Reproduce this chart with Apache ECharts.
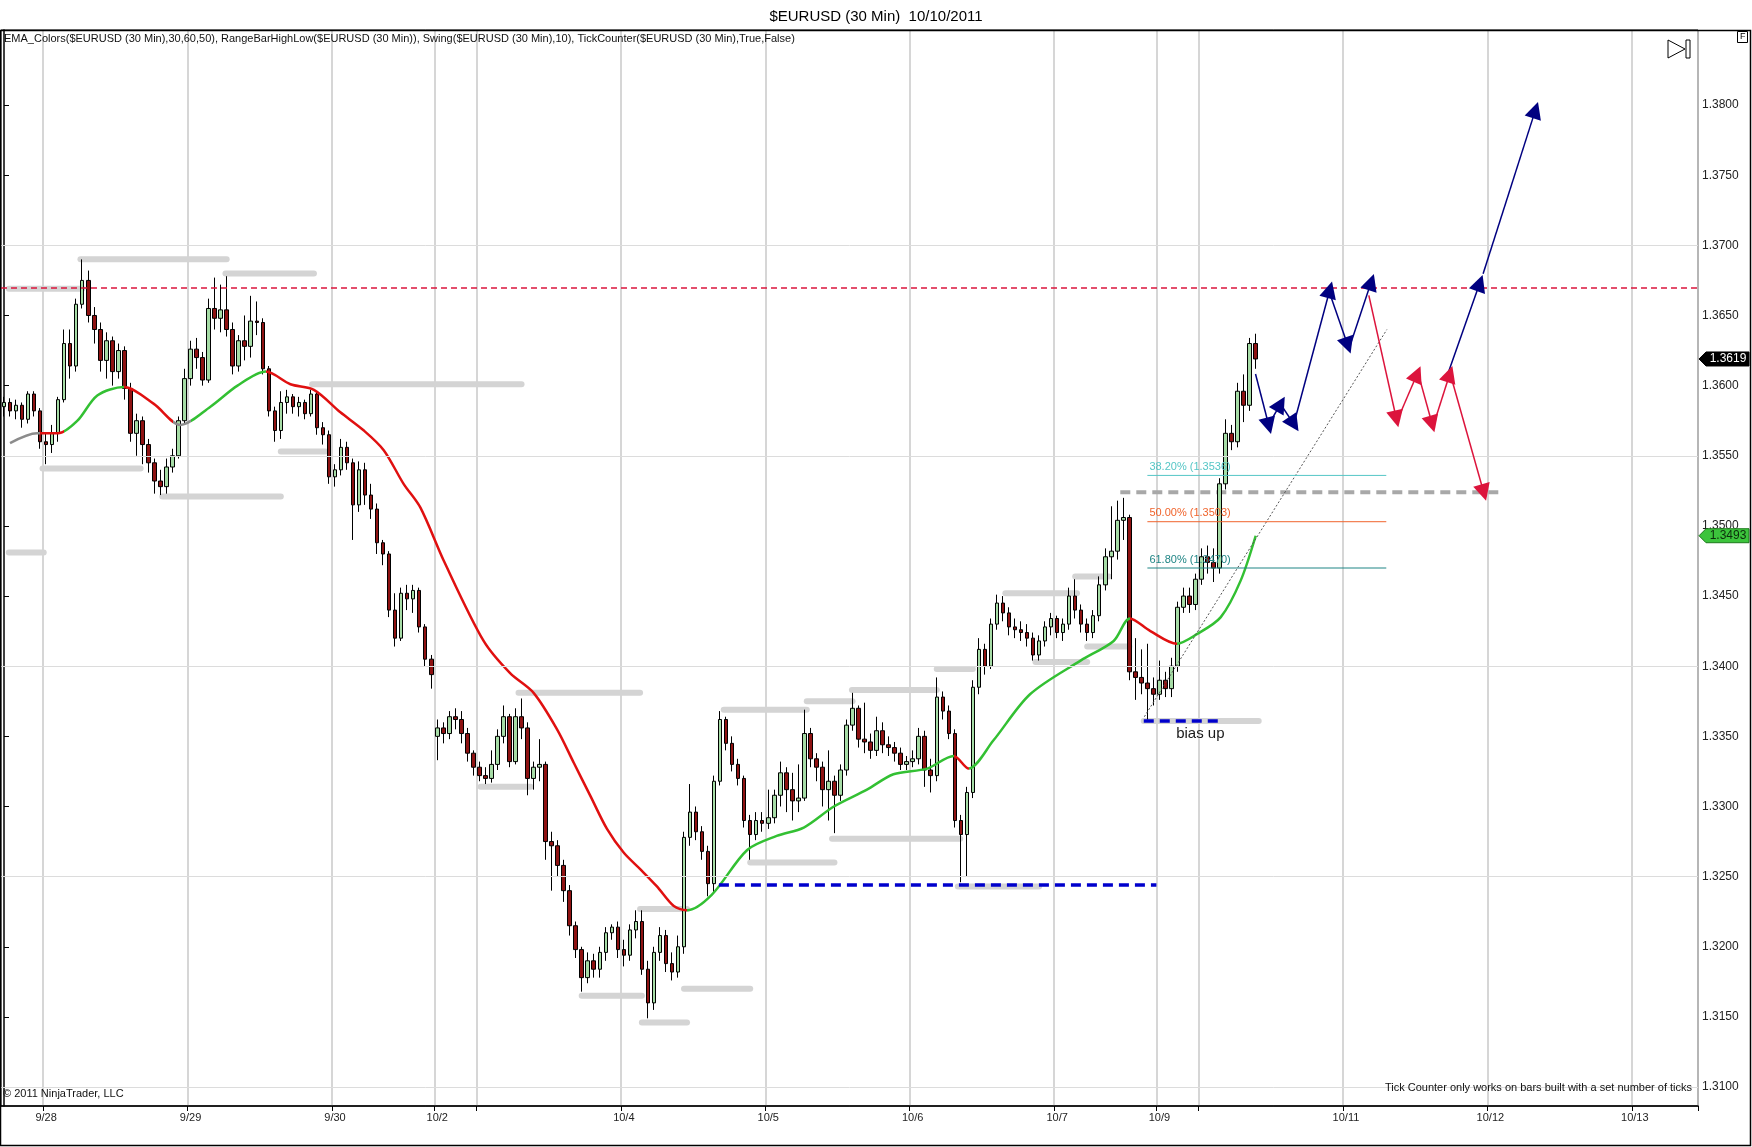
<!DOCTYPE html>
<html lang="en">
<head>
<meta charset="UTF-8">
<title>$EURUSD (30 Min) 10/10/2011</title>
<script src="https://cdn.jsdelivr.net/npm/echarts@6.0.0/dist/echarts.min.js"></script>
<style>
  html, body { margin: 0; padding: 0; background: #fff; }
  #chart { width: 1752px; height: 1147px; }
</style>
</head>
<body>
<div id="chart"></div>
<script>
// one slot per trading hour, slot 0 = 9/27 17:00, weekend hours skipped
const slotCount = 282;
const dayStarts = [7, 31, 55, 72, 79, 103, 127, 151, 175, 192, 199, 223, 247, 271];
const dayLabels = ['9/28', '9/29', '9/30', '10/2', '', '10/4', '10/5', '10/6', '10/7', '10/9', '', '10/11', '10/12', '10/13'];
const yTicks = [1.3100, 1.3150, 1.3200, 1.3250, 1.3300, 1.3350, 1.3400, 1.3450, 1.3500, 1.3550, 1.3600, 1.3650, 1.3700, 1.3750, 1.3800];
const gridLevels = [1.3100, 1.3250, 1.3400, 1.3550, 1.3700];
const resistance = 1.3670;

// hourly bars: [open, close, low, high]
const bars = [
  [1.3585,1.3588,1.3578,1.3592],[1.3588,1.3582,1.3578,1.3591],[1.3582,1.3586,1.3576,1.3590],[1.3586,1.3576,1.3570,1.3588],
  [1.3576,1.3594,1.3573,1.3596],[1.3594,1.3582,1.3578,1.3596],[1.3582,1.3560,1.3555,1.3584],[1.3560,1.3558,1.3544,1.3566],
  [1.3558,1.3566,1.3552,1.3572],[1.3566,1.3590,1.3560,1.3592],[1.3590,1.3630,1.3588,1.3640],[1.3630,1.3614,1.3605,1.3640],
  [1.3614,1.3658,1.3610,1.3662],[1.3658,1.3675,1.3655,1.3690],[1.3675,1.3650,1.3645,1.3682],[1.3650,1.3640,1.3630,1.3656],
  [1.3640,1.3618,1.3610,1.3645],[1.3618,1.3632,1.3605,1.3638],[1.3632,1.3610,1.3600,1.3635],[1.3610,1.3625,1.3605,1.3630],
  [1.3625,1.3598,1.3590,1.3628],[1.3598,1.3566,1.3560,1.3602],[1.3566,1.3575,1.3550,1.3580],[1.3575,1.3558,1.3544,1.3578],
  [1.3558,1.3545,1.3538,1.3562],[1.3545,1.3532,1.3523,1.3548],[1.3532,1.3528,1.3522,1.3540],[1.3528,1.3542,1.3523,1.3548],
  [1.3542,1.3550,1.3538,1.3555],[1.3550,1.3575,1.3548,1.3578],[1.3575,1.3605,1.3572,1.3612],[1.3605,1.3626,1.3600,1.3632],
  [1.3626,1.3620,1.3612,1.3634],[1.3620,1.3604,1.3600,1.3624],[1.3604,1.3655,1.3602,1.3662],[1.3655,1.3648,1.3640,1.3677],
  [1.3648,1.3654,1.3638,1.3672],[1.3654,1.3640,1.3635,1.3678],[1.3640,1.3614,1.3608,1.3645],[1.3614,1.3632,1.3610,1.3636],
  [1.3632,1.3628,1.3618,1.3650],[1.3628,1.3646,1.3620,1.3664],[1.3646,1.3645,1.3636,1.3660],[1.3645,1.3612,1.3608,1.3648],
  [1.3612,1.3582,1.3578,1.3614],[1.3582,1.3568,1.3560,1.3585],[1.3568,1.3588,1.3562,1.3596],[1.3588,1.3592,1.3580,1.3597],
  [1.3592,1.3585,1.3580,1.3594],[1.3585,1.3588,1.3578,1.3592],[1.3588,1.3580,1.3576,1.3590],[1.3580,1.3594,1.3578,1.3597],
  [1.3594,1.3570,1.3565,1.3596],[1.3570,1.3565,1.3558,1.3574],[1.3565,1.3535,1.3530,1.3568],[1.3535,1.3540,1.3528,1.3544],
  [1.3540,1.3556,1.3536,1.3562],[1.3556,1.3545,1.3540,1.3560],[1.3545,1.3515,1.3490,1.3548],[1.3515,1.3540,1.3510,1.3546],
  [1.3540,1.3522,1.3515,1.3545],[1.3522,1.3512,1.3505,1.3530],[1.3512,1.3488,1.3480,1.3516],[1.3488,1.3480,1.3472,1.3490],
  [1.3480,1.3440,1.3435,1.3482],[1.3440,1.3420,1.3414,1.3452],[1.3420,1.3452,1.3418,1.3456],[1.3452,1.3448,1.3440,1.3458],
  [1.3448,1.3454,1.3438,1.3458],[1.3454,1.3428,1.3424,1.3456],[1.3428,1.3405,1.3400,1.3430],[1.3405,1.3394,1.3384,1.3408],
  [1.3350,1.3356,1.3333,1.3362],[1.3356,1.3352,1.3345,1.3360],[1.3352,1.3364,1.3348,1.3368],[1.3364,1.3362,1.3355,1.3370],
  [1.3362,1.3352,1.3345,1.3368],[1.3352,1.3338,1.3332,1.3356],[1.3338,1.3328,1.3322,1.3340],[1.3328,1.3322,1.3318,1.3332],
  [1.3322,1.3320,1.3316,1.3328],[1.3320,1.3330,1.3317,1.3340],[1.3330,1.3350,1.3326,1.3355],[1.3350,1.3364,1.3345,1.3372],
  [1.3364,1.3332,1.3328,1.3366],[1.3332,1.3364,1.3330,1.3370],[1.3364,1.3356,1.3348,1.3377],[1.3356,1.3320,1.3308,1.3360],
  [1.3320,1.3328,1.3312,1.3332],[1.3328,1.3330,1.3318,1.3348],[1.3330,1.3275,1.3262,1.3332],[1.3275,1.3272,1.3240,1.3282],
  [1.3272,1.3258,1.3250,1.3276],[1.3258,1.3240,1.3232,1.3262],[1.3240,1.3215,1.3208,1.3244],[1.3215,1.3198,1.3192,1.3218],
  [1.3198,1.3178,1.3168,1.3200],[1.3178,1.3190,1.3174,1.3196],[1.3190,1.3184,1.3178,1.3195],[1.3184,1.3196,1.3178,1.3200],
  [1.3196,1.3210,1.3190,1.3214],[1.3210,1.3214,1.3205,1.3216],[1.3214,1.3198,1.3192,1.3218],[1.3198,1.3194,1.3186,1.3205],
  [1.3194,1.3212,1.3190,1.3216],[1.3212,1.3218,1.3206,1.3226],[1.3218,1.3184,1.3180,1.3226],[1.3184,1.3160,1.3149,1.3190],
  [1.3160,1.3196,1.3155,1.3200],[1.3196,1.3208,1.3190,1.3214],[1.3208,1.3188,1.3182,1.3212],[1.3188,1.3182,1.3176,1.3196],
  [1.3182,1.3200,1.3178,1.3208],[1.3200,1.3278,1.3195,1.3282],[1.3278,1.3296,1.3272,1.3316],[1.3296,1.3282,1.3276,1.3300],
  [1.3282,1.3268,1.3262,1.3286],[1.3268,1.3245,1.3236,1.3272],[1.3245,1.3318,1.3238,1.3322],[1.3318,1.3362,1.3315,1.3368],
  [1.3362,1.3345,1.3340,1.3364],[1.3345,1.3330,1.3325,1.3350],[1.3330,1.3320,1.3315,1.3334],[1.3320,1.3290,1.3285,1.3322],
  [1.3290,1.3280,1.3262,1.3294],[1.3280,1.3290,1.3276,1.3296],[1.3290,1.3288,1.3282,1.3296],[1.3288,1.3292,1.3284,1.3312],
  [1.3292,1.3308,1.3288,1.3312],[1.3308,1.3324,1.3300,1.3332],[1.3324,1.3312,1.3296,1.3328],[1.3312,1.3304,1.3290,1.3324],
  [1.3304,1.3306,1.3296,1.3330],[1.3306,1.3352,1.3304,1.3369],[1.3352,1.3334,1.3328,1.3356],[1.3334,1.3328,1.3318,1.3338],
  [1.3328,1.3312,1.3300,1.3332],[1.3312,1.3318,1.3290,1.3340],[1.3318,1.3308,1.3281,1.3322],[1.3308,1.3326,1.3304,1.3330],
  [1.3326,1.3358,1.3322,1.3362],[1.3358,1.3370,1.3354,1.3381],[1.3370,1.3348,1.3342,1.3372],[1.3348,1.3346,1.3338,1.3374],
  [1.3346,1.3340,1.3334,1.3352],[1.3340,1.3354,1.3336,1.3364],[1.3354,1.3344,1.3338,1.3360],[1.3344,1.3342,1.3336,1.3350],
  [1.3342,1.3338,1.3332,1.3346],[1.3338,1.3330,1.3326,1.3342],[1.3330,1.3332,1.3326,1.3336],[1.3332,1.3334,1.3328,1.3340],
  [1.3334,1.3350,1.3330,1.3356],[1.3350,1.3326,1.3314,1.3354],[1.3326,1.3322,1.3310,1.3334],[1.3322,1.3378,1.3318,1.3392],
  [1.3378,1.3368,1.3362,1.3382],[1.3368,1.3352,1.3348,1.3372],[1.3352,1.3290,1.3285,1.3355],[1.3290,1.3280,1.3246,1.3294],
  [1.3280,1.3310,1.3250,1.3314],[1.3310,1.3385,1.3306,1.3390],[1.3385,1.3412,1.3380,1.3420],[1.3412,1.3400,1.3394,1.3416],
  [1.3400,1.3430,1.3398,1.3434],[1.3430,1.3445,1.3426,1.3451],[1.3445,1.3438,1.3432,1.3450],[1.3438,1.3428,1.3422,1.3442],
  [1.3428,1.3426,1.3420,1.3434],[1.3426,1.3424,1.3418,1.3432],[1.3424,1.3420,1.3414,1.3430],[1.3420,1.3408,1.3404,1.3424],
  [1.3408,1.3418,1.3404,1.3422],[1.3418,1.3428,1.3414,1.3432],[1.3428,1.3434,1.3422,1.3438],[1.3434,1.3424,1.3420,1.3436],
  [1.3424,1.3430,1.3418,1.3434],[1.3430,1.3450,1.3426,1.3456],[1.3450,1.3440,1.3434,1.3462],[1.3440,1.3430,1.3424,1.3444],
  [1.3430,1.3424,1.3418,1.3434],[1.3424,1.3436,1.3420,1.3440],[1.3436,1.3458,1.3432,1.3464],[1.3458,1.3478,1.3454,1.3484],
  [1.3478,1.3482,1.3462,1.3514],[1.3482,1.3504,1.3476,1.3518],[1.3504,1.3506,1.3490,1.3520],[1.3506,1.3396,1.3390,1.3508],
  [1.3396,1.3392,1.3376,1.3420],[1.3392,1.3388,1.3380,1.3412],[1.3388,1.3384,1.3362,1.3416],[1.3384,1.3380,1.3372,1.3392],
  [1.3380,1.3390,1.3376,1.3404],[1.3390,1.3384,1.3378,1.3396],[1.3384,1.3400,1.3378,1.3406],[1.3400,1.3442,1.3396,1.3446],
  [1.3442,1.3450,1.3438,1.3456],[1.3450,1.3444,1.3438,1.3456],[1.3444,1.3462,1.3440,1.3466],[1.3462,1.3478,1.3458,1.3484],
  [1.3478,1.3474,1.3466,1.3486],[1.3474,1.3470,1.3460,1.3484],[1.3470,1.3530,1.3466,1.3534],[1.3530,1.3566,1.3526,1.3576],
  [1.3566,1.3560,1.3554,1.3572],[1.3560,1.3596,1.3556,1.3602],[1.3596,1.3586,1.3574,1.3608],[1.3586,1.3630,1.3582,1.3634],
  [1.3630,1.3619,1.3612,1.3637]
];

// EMA_Colors line, read at these slots
const emaSlots = [1, 5.5, 9, 12.2, 15.5, 19.9, 24.9, 29.3, 34.3, 38.8, 43.5, 47.6, 51.5, 55.9, 59.8, 63.1, 66.4, 69.2, 73.1,
  79.7, 84.1, 88, 91.9, 94.7, 97.5, 100.2, 103, 105.8, 108.5, 111.3, 113.5, 117.6, 123.5, 128.4, 132.9, 137.9, 143.4, 147.8,
  153.4, 157.8, 160.3, 164.4, 170.5, 178.9, 184.4, 187.1, 190.5, 194.9, 198.3, 202.2, 205.5, 208];
const emaValues = [1.3559, 1.3566, 1.3566, 1.3575, 1.3593, 1.3599, 1.3587, 1.3572, 1.3585, 1.3600, 1.3610, 1.3601, 1.3597,
  1.3581, 1.3568, 1.3554, 1.3530, 1.3513, 1.3475, 1.3418, 1.3395, 1.3381, 1.3355, 1.3331, 1.3307, 1.3284, 1.3267, 1.3255,
  1.3243, 1.3229, 1.3226, 1.3237, 1.3269, 1.3279, 1.3285, 1.3300, 1.3312, 1.3323, 1.3327, 1.3336, 1.3327, 1.3347, 1.3380,
  1.3404, 1.3418, 1.3434, 1.3425, 1.3416, 1.3423, 1.3435, 1.3461, 1.3493];
// slope colour changes of the EMA: [from slot, colour]
const emaTurns = [[-1, '#8c8c8c'], [6, '#e01010'], [10, '#33c033'], [20, '#e01010'], [28, '#8c8c8c'], [31, '#33c033'],
  [43.5, '#e01010'], [113.5, '#33c033'], [157.8, '#e01010'], [160.3, '#33c033'], [187.1, '#e01010'], [194.9, '#33c033']];

// swing / range high-low lines: [from slot, to slot, price]
const swingLines = [
  [0.8, 13, 1.3669], [12.7, 37, 1.3690], [36.8, 51.5, 1.3680], [51.2, 86, 1.3601], [6.4, 22.7, 1.3541],
  [26.3, 46, 1.3521], [46, 53.4, 1.3553], [0.8, 6.6, 1.3481], [85.5, 105.7, 1.3381], [79.2, 87.5, 1.3314],
  [105.7, 113.5, 1.3227], [96, 106, 1.3165], [106, 113.5, 1.3146], [113, 124, 1.3170], [119.6, 133.4, 1.3369],
  [133.4, 141, 1.3375], [140.9, 155, 1.3383], [155, 161, 1.3398], [124, 138, 1.3260], [137.6, 158.9, 1.3277],
  [158.5, 172, 1.3243], [166.4, 178.3, 1.3452], [178, 183.6, 1.3464], [171.4, 180, 1.3403], [180, 187, 1.3414],
  [189.4, 208.5, 1.3361]
];
const greyDashLines = [[185.5, 248.7, 1.3524]];
const blueDashLines = [[118.8, 191.5, 1.3244], [189.4, 202.6, 1.3361]];
const trendLine = [[189.5, 1.3364, 229.8, 1.3640]];
const fibLevels = [1.3536, 1.3503, 1.3470];
const fibNames = ['38.20% (1.3536)', '50.00% (1.3503)', '61.80% (1.3470)'];
const fibColors = ['#55c6c6', '#f0642c', '#1f8585'];
const fibRange = [190, 229.7];

// projected path arrows: [[slot, price], [slot, price]]
const blueArrows = [
  [[207.97, 1.36083], [210.19, 1.35714]], [[210.19, 1.35726], [212.12, 1.35869]], [[212.12, 1.35869], [214.34, 1.35726]],
  [[214.34, 1.35726], [220.32, 1.36683]], [[220.43, 1.36643], [223.31, 1.36286]], [[223.86, 1.36310], [227.19, 1.36738]],
  [[239.92, 1.36083], [245.24, 1.36731]], [[245.79, 1.36798], [254.48, 1.37964]]
];
const redArrows = [
  [[226.80, 1.36643], [231.39, 1.35762]], [[231.50, 1.35750], [234.83, 1.36083]], [[235.10, 1.36071], [237.32, 1.35726]],
  [[237.60, 1.35726], [240.25, 1.36083]], [[240.64, 1.36036], [245.90, 1.35238]]
];
const biasNote = [198.8, 1.3352, 'bias up'];
const lastPrice = 1.3619;
const lastEma = 1.3493;

const FONT = '"Liberation Sans", Arial, sans-serif';
const slots = Array.from({ length: slotCount }, (_, i) => String(i));
const labelBySlot = {};
dayStarts.forEach((s, i) => { if (dayLabels[i]) labelBySlot[s] = dayLabels[i]; });

const chart = echarts.init(document.getElementById('chart'));

function segmentSeries(segs, style, z) {
  return {
    type: 'custom', xAxisIndex: 1, yAxisIndex: 0, z: z, silent: true,
    data: segs,
    renderItem: function (params, api) {
      const a = api.coord([api.value(0), api.value(1)]);
      const b = api.coord([api.value(2), api.value(3)]);
      return { type: 'line', shape: { x1: a[0], y1: a[1], x2: b[0], y2: b[1] }, style: Object.assign({}, style) };
    }
  };
}

function arrowSeries(list, color) {
  return {
    type: 'lines', coordinateSystem: 'cartesian2d', xAxisIndex: 1, yAxisIndex: 0, z: 6, silent: true,
    symbol: ['none', 'triangle'], symbolSize: [15, 17],
    lineStyle: { color: color, width: 1.5, opacity: 1, curveness: 0 },
    itemStyle: { color: color },
    data: list.map(c => ({ coords: c }))
  };
}

const emaPieces = emaTurns.map((t, i) => {
  const p = { gte: t[0], color: t[1] };
  if (i < emaTurns.length - 1) p.lt = emaTurns[i + 1][0];
  return p;
});

const option = {
  animation: false,
  backgroundColor: '#fff',
  title: {
    text: '$EURUSD (30 Min)  10/10/2011', left: 'center', top: 4,
    textStyle: { fontFamily: FONT, fontSize: 15, fontWeight: 'normal', color: '#000' }
  },
  grid: { left: 1, right: 54, top: 30, bottom: 41, show: true, borderColor: '#000', borderWidth: 1, backgroundColor: '#fff' },
  xAxis: [{
    type: 'category', data: slots, boundaryGap: true,
    axisLine: { lineStyle: { color: '#000', width: 1.5 } },
    axisTick: { show: true, length: 5, interval: i => dayStarts.includes(i), lineStyle: { color: '#000' } },
    axisLabel: {
      interval: i => labelBySlot[i] !== undefined, formatter: (v, i) => labelBySlot[i] || '',
      fontFamily: FONT, fontSize: 11, color: '#222', margin: 6
    },
    splitLine: { show: true, interval: i => dayStarts.includes(i), lineStyle: { color: '#c8c8c8', width: 1.5 } }
  }, {
    type: 'value', min: -0.5, max: slotCount - 0.5, show: false
  }],
  yAxis: {
    type: 'value', position: 'right', min: 1.30865, max: 1.38535, scale: true,
    axisLine: { show: true, lineStyle: { color: '#000', width: 1.5 } },
    axisTick: { show: true, length: 5, customValues: yTicks, lineStyle: { color: '#000' } },
    axisLabel: { customValues: yTicks, formatter: v => v.toFixed(4), fontFamily: FONT, fontSize: 12, color: '#222', margin: 4 },
    splitLine: { show: false }
  },
  visualMap: {
    type: 'piecewise', show: false, seriesIndex: 2, dimension: 0, pieces: emaPieces
  },
  series: [
    {
      type: 'line', xAxisIndex: 0, data: [], z: 0, silent: true,
      markLine: {
        silent: true, symbol: 'none', precision: 4, label: { show: false },
        lineStyle: { color: '#dcdcdc', width: 1, type: 'solid' },
        data: gridLevels.map(v => ({ yAxis: v }))
      }
    },
    {
      type: 'candlestick', name: '$EURUSD', xAxisIndex: 0, z: 3, barWidth: 4, silent: true,
      itemStyle: { color: '#a6dca6', color0: '#8e1212', borderColor: '#000', borderColor0: '#000', borderWidth: 1 },
      data: bars
    },
    {
      type: 'line', name: 'EMA', xAxisIndex: 1, z: 4, smooth: 0.3, symbol: 'none', silent: true,
      lineStyle: { width: 2.5 },
      data: emaSlots.map((s, i) => [s, emaValues[i]])
    },
    segmentSeries(swingLines.map(s => [s[0], s[2], s[1], s[2]]),
      { stroke: '#d4d4d4', lineWidth: 6, lineCap: 'round' }, 1),
    segmentSeries(greyDashLines.map(s => [s[0], s[2], s[1], s[2]]),
      { stroke: '#a8a8a8', lineWidth: 4, lineDash: [10, 6] }, 2),
    segmentSeries(blueDashLines.map(s => [s[0], s[2], s[1], s[2]]),
      { stroke: '#0000cc', lineWidth: 3.5, lineDash: [10, 6] }, 5),
    segmentSeries(trendLine, { stroke: '#555', lineWidth: 1, lineDash: [2, 2] }, 5),
    {
      type: 'custom', xAxisIndex: 1, yAxisIndex: 0, z: 5, silent: true,
      data: fibLevels.map(v => [fibRange[0], v, fibRange[1], v]),
      renderItem: function (params, api) {
        const a = api.coord([api.value(0), api.value(1)]);
        const b = api.coord([api.value(2), api.value(3)]);
        const c = fibColors[params.dataIndex];
        return {
          type: 'group', children: [
            { type: 'line', shape: { x1: a[0], y1: a[1], x2: b[0], y2: b[1] }, style: { stroke: c, lineWidth: 1 } },
            { type: 'text', x: a[0] + 2, y: a[1] - 3,
              style: { text: fibNames[params.dataIndex], fill: c, font: '11px ' + FONT, align: 'left', verticalAlign: 'bottom' } }
          ]
        };
      }
    },
    arrowSeries(blueArrows, '#000080'),
    arrowSeries(redArrows, '#dc143c'),
    {
      type: 'custom', xAxisIndex: 1, yAxisIndex: 0, z: 6, silent: true,
      data: [[biasNote[0], biasNote[1]]],
      renderItem: function (params, api) {
        const p = api.coord([api.value(0), api.value(1)]);
        return { type: 'text', x: p[0], y: p[1],
          style: { text: biasNote[2], fill: '#1a1a1a', font: '15px ' + FONT, align: 'center', verticalAlign: 'middle' } };
      }
    },
    {
      type: 'line', xAxisIndex: 0, data: [], z: 7, silent: true,
      markLine: {
        silent: true, symbol: 'none', precision: 4, label: { show: false },
        lineStyle: { color: '#dc143c', width: 1.5, type: [6, 4] },
        data: [{ yAxis: resistance }]
      }
    },
    {
      type: 'custom', xAxisIndex: 1, yAxisIndex: 0, z: 10, silent: true, clip: false,
      data: [[0, lastPrice], [0, lastEma]],
      renderItem: function (params, api) {
        const y = api.coord([0, api.value(1)])[1];
        const x = params.coordSys.x + params.coordSys.width + 1;
        const dark = params.dataIndex === 0;
        return {
          type: 'group', children: [
            { type: 'polygon', shape: { points: [[x, y], [x + 7, y - 7], [x + 50, y - 7], [x + 50, y + 7], [x + 7, y + 7]] },
              style: { fill: dark ? '#000' : '#3cc43c', stroke: dark ? '#000' : '#1c7a1c', lineWidth: 1 } },
            { type: 'text', x: x + 29, y: y,
              style: { text: api.value(1).toFixed(4), fill: dark ? '#fff' : '#0b2e0b', font: '12px ' + FONT, align: 'center', verticalAlign: 'middle' } }
          ]
        };
      }
    }
  ],
  graphic: [
    { type: 'rect', shape: { x: 0.5, y: 30.5, width: 1750, height: 1115 }, style: { fill: null, stroke: '#000', lineWidth: 1.5 }, z: 100, silent: true },
    { type: 'text', left: 4, top: 33, z: 100, silent: true,
      style: { text: 'EMA_Colors($EURUSD (30 Min),30,60,50), RangeBarHighLow($EURUSD (30 Min)), Swing($EURUSD (30 Min),10), TickCounter($EURUSD (30 Min),True,False)',
        fill: '#111', font: '11px ' + FONT } },
    { type: 'text', left: 3, top: 1088, z: 100, silent: true, style: { text: '\u00a9 2011 NinjaTrader, LLC', fill: '#111', font: '11px ' + FONT } },
    { type: 'text', right: 60, top: 1082, z: 100, silent: true,
      style: { text: 'Tick Counter only works on bars built with a set number of ticks', fill: '#111', font: '11px ' + FONT } },
    { type: 'polygon', shape: { points: [[1668, 40], [1668, 58], [1685, 49]] }, style: { fill: '#fff', stroke: '#000', lineWidth: 1 }, z: 100, silent: true },
    { type: 'rect', shape: { x: 1686, y: 40, width: 4, height: 18 }, style: { fill: '#fff', stroke: '#000', lineWidth: 1 }, z: 100, silent: true },
    { type: 'rect', shape: { x: 1737.5, y: 31.5, width: 10, height: 11 }, style: { fill: '#fff', stroke: '#000', lineWidth: 1 }, z: 100, silent: true },
    { type: 'text', left: 1740, top: 32, z: 101, silent: true, style: { text: 'F', fill: '#000', font: '9px ' + FONT } }
  ]
};

chart.setOption(option);
window.addEventListener('resize', () => chart.resize());
</script>
</body>
</html>
